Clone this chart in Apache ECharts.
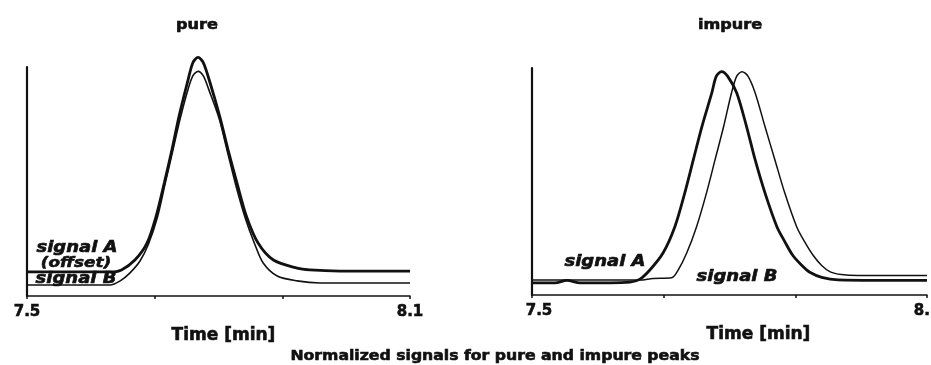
<!DOCTYPE html>
<html>
<head>
<meta charset="utf-8">
<script src="https://cdn.jsdelivr.net/npm/echarts@6/dist/echarts.min.js"></script>
<style>
  html, body { margin: 0; padding: 0; background: #fff; }
  #chart { width: 931px; height: 365px; }
</style>
</head>
<body>
<div id="chart"></div>
<script>
// time (min) and normalized signal (0..100 of axis height)
var xTicks = [7.5, 8.1];

// pure peak
var pureTimeA = [7.5, 7.630, 7.648, 7.669, 7.688, 7.702, 7.715, 7.727, 7.738, 7.751, 7.760, 7.768, 7.776, 7.787, 7.802, 7.815, 7.829, 7.844, 7.862, 7.886, 7.923, 7.943, 7.990, 8.1];
var pureValA  = [10.5, 10.5, 11.4, 15.7, 23.1, 34.6, 49.3, 63.8, 78.3, 92.9, 102.0, 104.2, 102.0, 92.9, 78.3, 63.8, 49.3, 34.6, 23.1, 15.7, 12.2, 11.4, 10.9, 10.9];
var pureTimeB = [7.5, 7.630, 7.646, 7.661, 7.677, 7.690, 7.704, 7.716, 7.728, 7.740, 7.752, 7.760, 7.768, 7.776, 7.785, 7.801, 7.814, 7.827, 7.842, 7.857, 7.870, 7.892, 7.923, 7.959, 8.1];
var pureValB  = [4.8, 4.8, 6.6, 10.0, 15.3, 22.5, 34.0, 48.5, 63.0, 77.5, 90.0, 96.2, 98.1, 96.2, 90.0, 77.5, 63.0, 48.5, 34.0, 22.5, 14.4, 8.7, 6.6, 5.7, 5.7];

// impure peak
var impTimeA = [7.5, 7.535, 7.553, 7.573, 7.649, 7.664, 7.679, 7.699, 7.717, 7.732, 7.745, 7.758, 7.773, 7.780, 7.788, 7.797, 7.811, 7.826, 7.839, 7.854, 7.872, 7.884, 7.896, 7.910, 7.922, 7.940, 7.965, 8.1];
var impValA  = [5.3, 5.3, 6.4, 5.3, 5.7, 7.0, 11.0, 18.5, 30.1, 44.9, 59.5, 74.1, 88.9, 96.4, 98.4, 96.4, 89.0, 74.1, 59.5, 44.9, 30.1, 23.5, 17.5, 13.0, 10.0, 7.8, 6.7, 6.4];
var impTimeB = [7.5, 7.664, 7.684, 7.712, 7.722, 7.735, 7.750, 7.765, 7.778, 7.791, 7.803, 7.811, 7.819, 7.828, 7.839, 7.854, 7.869, 7.884, 7.902, 7.914, 7.927, 7.940, 7.953, 7.970, 7.995, 8.1];
var impValB  = [6.6, 6.6, 7.3, 7.6, 11.0, 18.5, 30.1, 44.9, 59.5, 74.1, 89.0, 96.4, 98.4, 96.4, 89.0, 74.1, 59.5, 44.9, 30.1, 23.5, 17.5, 13.0, 10.2, 9.0, 8.6, 8.6];

function pairs(t, v) {
  return t.map(function (x, i) { return [x, v[i]]; });
}

var font = '"DejaVu Sans", sans-serif';
var ink = '#111';

function xAxisFor(gridIndex, firstPad, namePad) {
  return {
    type: 'value', gridIndex: gridIndex,
    min: 7.5, max: 8.1, interval: 0.2,
    name: 'Time [min]', nameLocation: 'middle', nameGap: 31,
    nameTextStyle: {
      fontFamily: font, fontWeight: 'bold', fontSize: 17, color: ink, padding: namePad,
      textBorderColor: ink, textBorderWidth: 0.6
    },
    axisLine: { lineStyle: { color: ink, width: 1.5 } },
    axisTick: { show: true, length: 3, lineStyle: { color: ink, width: 1.5 } },
    splitLine: { show: false },
    axisLabel: {
      fontFamily: font, fontWeight: 'bold', fontSize: 15, color: ink, margin: 9,
      textBorderColor: ink, textBorderWidth: 0.6,
      showMinLabel: true, showMaxLabel: true,
      rich: {
        first: {
          fontFamily: font, fontWeight: 'bold', fontSize: 15, color: ink,
          textBorderColor: ink, textBorderWidth: 0.6, padding: [0, 0, 0, firstPad]
        }
      },
      formatter: function (v) {
        if (Math.abs(v - xTicks[0]) < 1e-6) return '{first|' + xTicks[0].toFixed(1) + '}';
        if (Math.abs(v - xTicks[1]) < 1e-6) return xTicks[1].toFixed(1);
        return '';
      }
    }
  };
}

function yAxisFor(gridIndex) {
  return {
    type: 'value', gridIndex: gridIndex, min: 0, max: 100,
    axisLine: { show: true, lineStyle: { color: ink, width: 2.2 } },
    axisTick: { show: false }, axisLabel: { show: false }, splitLine: { show: false }
  };
}

function line(data, idx, width) {
  return {
    type: 'line', xAxisIndex: idx, yAxisIndex: idx, data: data,
    showSymbol: false, smooth: 0.3, clip: false,
    lineStyle: { color: ink, width: width }
  };
}

function label(text, x, y, size, italic, sx) {
  return {
    type: 'text', x: x, y: y, scaleX: sx || 1,
    style: {
      text: text, fill: ink, stroke: ink, lineWidth: 0.6,
      font: (italic ? 'italic ' : '') + 'bold ' + size + 'px ' + font,
      textAlign: 'center', textVerticalAlign: 'middle',
      align: 'center', verticalAlign: 'middle'
    }
  };
}

var chart = echarts.init(document.getElementById('chart'));
chart.setOption({
  animation: false,
  backgroundColor: '#fff',
  grid: [
    { left: 27, top: 67, width: 383, height: 229, outerBoundsMode: 'none', containLabel: false },
    { left: 532, top: 68, width: 395, height: 227, outerBoundsMode: 'none', containLabel: false }
  ],
  xAxis: [
    xAxisFor(0, 0, [0, 0, 0, 10]),
    xAxisFor(1, 14, [0, 0, 0, 58])
  ],
  yAxis: [yAxisFor(0), yAxisFor(1)],
  series: [
    line(pairs(pureTimeA, pureValA), 0, 2.8),
    line(pairs(pureTimeB, pureValB), 0, 1.6),
    line(pairs(impTimeA, impValA), 1, 2.8),
    line(pairs(impTimeB, impValB), 1, 1.5)
  ],
  graphic: [
    label('pure', 197, 25, 14, false, 1.15),
    label('impure', 730, 25, 14, false, 1.15),
    label('signal A', 77, 248, 15, true, 1.2),
    label('(offset)', 76, 263, 14, true, 1.2),
    label('signal B', 76, 279, 15, true, 1.2),
    label('signal A', 605, 262, 15, true, 1.2),
    label('signal B', 737, 277, 15, true, 1.2),
    label('Normalized signals for pure and impure peaks', 495, 356, 14, false, 1.12)
  ]
});
</script>
</body>
</html>
